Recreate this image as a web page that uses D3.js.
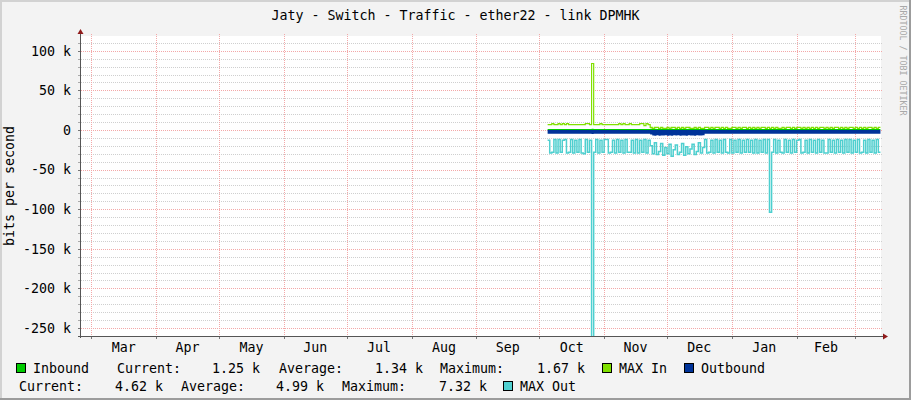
<!DOCTYPE html>
<html><head><meta charset="utf-8">
<script src="https://cdn.jsdelivr.net/npm/d3@7/dist/d3.min.js"></script>
<style>
html,body{margin:0;padding:0;background:#f3f3f3;}
svg{display:block;}
text{font-family:"DejaVu Sans Mono",monospace;}
</style></head>
<body>
<svg id="c" width="911" height="400"></svg>
<script>
// ---------------- DATA ----------------
const title = "Jaty - Switch - Traffic - ether22 - link DPMHK";
const yAxisTitle = "bits per second";
const watermark = "RRDTOOL / TOBI OETIKER";
const monthLabels = ["Mar","Apr","May","Jun","Jul","Aug","Sep","Oct","Nov","Dec","Jan","Feb"];
const majorTicks = [-250,-200,-150,-100,-50,0,50,100];   // k bits/s
const firstDay = "2010-10-05";  // first daily sample (UTC)

// daily values in k bits/s
const inbound = [
1.3,1.4,1.3,1.3,1.4,1.3,1.4,1.3,1.3,1.4, 1.3,1.4,1.3,1.3,1.4,1.3,1.3,1.4,1.3,1.3,
1.4,1.67,1.3,1.4,1.3,1.3,1.4,1.3,1.4,1.3, 1.3,1.4,1.3,1.3,1.4,1.3,1.4,1.3,1.3,1.4,
1.3,1.3,1.4,1.3,1.4,1.3,1.3,1.4,1.3,1.5, 1.4,1.5,1.4,1.4,1.5,1.4,1.5,1.4,1.4,1.5,
1.4,1.5,1.4,1.4,1.5,1.4,1.4,1.5,1.4,1.4, 1.5,1.4,1.4,1.5,1.4,1.3,1.3,1.4,1.3,1.3,
1.4,1.3,1.3,1.4,1.3,1.3,1.4,1.3,1.3,1.4, 1.3,1.3,1.4,1.3,1.3,1.4,1.3,1.3,1.4,1.3,
1.3,1.4,1.3,1.3,1.4,1.3,1.4,1.3,1.3,1.4, 1.3,1.3,1.4,1.3,1.3,1.4,1.3,1.3,1.4,1.3,
1.3,1.4,1.3,1.3,1.4,1.3,1.3,1.4,1.3,1.3, 1.4,1.3,1.3,1.4,1.3,1.3,1.4,1.3,1.3,1.4,
1.3,1.3,1.4,1.3,1.3,1.4,1.3,1.3,1.4,1.3, 1.3,1.4,1.3,1.3,1.4,1.3,1.3,1.3,1.25
];
const maxIn = [
6.9,6.9,8.1,6.9,6.9,8.1,6.9,8.1,6.9,8.1, 6.9,6.9,6.9,6.9,6.9,6.9,6.9,6.9,8.1,8.1,
6.9,84,
6.9,6.9,6.9,8.1,6.9,6.9,6.9,6.9,6.9,6.9, 6.9,6.9,8.1,6.9,8.1,6.9,6.9,8.1,6.9,6.9,
6.9,6.9,8.1,8.1,5.6,8.1,6.9,
3.4,2.1,3.4,3.4,2.1,3.4,2.1,2.1,3.4,2.1, 3.4,3.4,2.1,3.4,2.1,3.4,2.1,3.4,3.4,2.1,
2.1,3.4,2.1,3.4,2.1,2.1,3.4,3.4,2.1,3.4, 2.1,3.4,3.4,2.1,3.4,2.1,3.4,2.1,2.1,3.4,
3.4,2.1,3.4,2.1,3.4,3.4,2.1,3.4,2.1,3.4, 2.1,3.4,2.1,3.4,3.4,2.1,3.4,2.1,3.4,2.1,
3.4,2.1,2.1,3.4,2.1,3.4,3.4,2.1,3.4,2.1, 3.4,3.4,2.1,3.4,2.1,3.4,2.1,3.4,2.1,3.4,
2.1,3.4,3.4,2.1,3.4,2.1,3.4,2.1,3.4,3.4, 2.1,3.4,2.1,3.4,2.1,3.4,3.4,2.1,3.4,2.1,
3.4,2.1,3.4,2.1,3.4,3.4,2.1,3.4,2.1,3.4
];
const outbound = [
4.7,4.6,4.8,4.7,4.6,4.7,4.8,4.6,4.7,4.7, 4.6,4.8,4.7,4.6,4.7,4.7,4.8,4.6,4.7,4.6,
4.7,5.1,4.7,4.6,4.8,4.7,4.6,4.7,4.7,4.8, 4.6,4.7,4.7,4.6,4.8,4.7,4.6,4.7,4.8,4.6,
4.7,4.7,4.6,4.8,4.7,4.6,4.7,4.8,4.7,
5.6,6.9,7.1,6.6,7.2,6.8,7.0,6.5,7.32,6.9, 7.1,6.7,7.0,6.6,7.2,6.9,6.8,7.1,6.6,7.0,
6.8,7.2,6.7,6.9,7.0,6.5,
4.7,4.6,4.8,4.7,4.6,4.7,4.7,4.6,4.8,4.7, 4.6,4.7,4.8,4.6,4.7,4.7,4.6,4.8,4.7,4.6,
4.7,4.7,4.6,4.8,4.7,4.6,4.7,4.8,4.7,4.6, 4.7,4.6,4.8,4.7,4.7,4.6,4.7,4.8,4.6,4.7,
4.7,4.6,4.8,4.7,4.6,4.7,4.7,4.8,4.6,4.7, 4.6,4.7,4.8,4.7,4.6,4.7,4.7,4.6,4.8,4.7,
4.6,4.7,4.7,4.8,4.6,4.7,4.6,4.7,4.8,4.7, 4.6,4.7,4.7,4.6,4.8,4.7,4.6,4.7,4.7,4.6,
4.7,4.8,4.6,4.62
];
const maxOut = [
13,29,28,12,29,12,28,13,12,29, 28,12,29,13,28,12,29,30,12,28, 13,
330,
28,12,29,13,28,12,12,29,28,13, 29,12,28,13,29,12,28,28,13,29, 12,29,13,28,12,29,13,
20,30,16,31,27,17,32,22,30,18, 33,25,19,31,28,17,32,21,30,24, 18,31,27,16,29,22,
12,29,28,13,29,12,28,13,29,12, 28,29,12,29,13,28,12,29,13,28, 12,28,13,29,12,29,13,28,12,29,
12,104,28,
12,29,13,28,29,12,28,13,29,12, 28,13,12,29,28,13,29,12,28,13, 29,12,28,13,29,29,12,28,13,29,
12,28,13,29,12,28,12,29,13,28, 12,29,28,13,29,12,28,13,29,12,28
];

// legend strings
const legendRow1 = [
  {sw:"#00cc00", text:"Inbound", x:33},
  {text:"Current:", x:117},{text:"1.25 k", x:212},
  {text:"Average:", x:279},{text:"1.34 k", x:375},
  {text:"Maximum:", x:440},{text:"1.67 k", x:537},
  {sw:"#80e000", text:"MAX In", x:619},
  {sw:"#003399", text:"Outbound", x:701}
];
const legendRow2 = [
  {text:"Current:", x:19},{text:"4.62 k", x:115},
  {text:"Average:", x:181},{text:"4.99 k", x:276},
  {text:"Maximum:", x:342},{text:"7.32 k", x:439},
  {sw:"#50d0d0", text:"MAX Out", x:520}
];

// ---------------- DRAW ----------------
const svg = d3.select("#c");
const W = 911, H = 400;
const L = 81, R = 881, T = 36, B = 336;
const day = 864e5;
const t0 = d3.utcParse("%Y-%m-%d")(firstDay).getTime();
const dates = inbound.map((_, i) => new Date(t0 + i * day));

const x = d3.scaleUtc()
  .domain([new Date(Date.UTC(2010,1,24,1,53)), new Date(Date.UTC(2011,2,13,6,29))])
  .range([L, R]);
const y = d3.scaleLinear().domain([-260.1, 118.7]).range([B, T]);

// background & frame
svg.append("rect").attr("width", W).attr("height", H).attr("fill", "#f3f3f3");
svg.append("rect").attr("x",0).attr("y",0).attr("width",W).attr("height",2).attr("fill","#d2d2d2");
svg.append("rect").attr("x",0).attr("y",0).attr("width",2).attr("height",H).attr("fill","#d2d2d2");
svg.append("rect").attr("x",0).attr("y",H-2).attr("width",W).attr("height",2).attr("fill","#9c9c9c");
svg.append("rect").attr("x",W-2).attr("y",0).attr("width",2).attr("height",H).attr("fill","#9c9c9c");

// plot background
svg.append("rect").attr("x", L).attr("y", T).attr("width", R - L).attr("height", B - T).attr("fill", "#ffffff");

const gGrid = svg.append("g");
// minor horizontal grid
const minor = d3.range(-260, 120, 10).filter(v => majorTicks.indexOf(v) < 0);
gGrid.selectAll(".hmin").data(minor).join("line")
  .attr("x1", L - 2).attr("x2", R + 2)
  .attr("y1", d => Math.round(y(d)) + 0.5).attr("y2", d => Math.round(y(d)) + 0.5)
  .attr("stroke", "#cfcfcf").attr("stroke-dasharray", "1,1");
// vertical month grid
const months = d3.utcMonth.range(x.domain()[0], x.domain()[1]);
gGrid.selectAll(".vmaj").data(months).join("line")
  .attr("x1", d => Math.round(x(d)) + 0.5).attr("x2", d => Math.round(x(d)) + 0.5)
  .attr("y1", T - 2).attr("y2", B)
  .attr("stroke", "#f3a8a8").attr("stroke-dasharray", "1,1");
// major horizontal grid
gGrid.selectAll(".hmaj").data(majorTicks).join("line")
  .attr("x1", L - 2).attr("x2", R + 2)
  .attr("y1", d => Math.round(y(d)) + 0.5).attr("y2", d => Math.round(y(d)) + 0.5)
  .attr("stroke", "#f3a8a8").attr("stroke-dasharray", "1,1");
// tick marks on axes
const gTk = svg.append("g").attr("shape-rendering", "crispEdges");
gTk.selectAll(".ytk").data(d3.range(-260, 120, 10)).join("line")
  .attr("x1", L - 3).attr("x2", L)
  .attr("y1", d => Math.round(y(d)) + 0.5).attr("y2", d => Math.round(y(d)) + 0.5)
  .attr("stroke", d => majorTicks.indexOf(d) >= 0 ? "#777" : "#aaa");
gTk.selectAll(".xtk").data(months).join("line")
  .attr("x1", d => Math.round(x(d)) + 0.5).attr("x2", d => Math.round(x(d)) + 0.5)
  .attr("y1", B).attr("y2", B + 3)
  .attr("stroke", "#777");

// data
svg.append("clipPath").attr("id", "pc").append("rect")
  .attr("x", L).attr("y", T).attr("width", R - L).attr("height", B - T);
const gData = svg.append("g").attr("clip-path", "url(#pc)");

function pts(arr, sign) {
  const p = arr.map((v, i) => ({d: dates[i], v: sign * v}));
  p.push({d: new Date(dates[dates.length - 1].getTime() + day), v: sign * arr[arr.length - 1]});
  return p;
}
const area = d3.area().curve(d3.curveStepAfter).x(d => x(d.d)).y0(y(0)).y1(d => y(d.v));
const line = d3.line().curve(d3.curveStepAfter).x(d => x(d.d)).y(d => y(d.v));

gData.append("path").datum(pts(inbound, 1)).attr("d", area).attr("fill", "#00cc00");
gData.append("path").datum(pts(maxIn, 1)).attr("d", line).attr("fill", "none")
  .attr("stroke", "#80e000").attr("stroke-width", 1.2);
gData.append("path").datum(pts(outbound, -1)).attr("d", area).attr("fill", "#003399");
gData.append("path").datum(pts(maxOut, -1)).attr("d", line).attr("fill", "none")
  .attr("stroke", "#4ecfcf").attr("stroke-width", 1.5);

// axes
const gAx = svg.append("g").attr("shape-rendering", "crispEdges");
gAx.append("line").attr("x1", L - 0.5).attr("x2", L - 0.5).attr("y1", T - 4).attr("y2", B + 2).attr("stroke", "#555");
gAx.append("line").attr("x1", L - 3).attr("x2", R + 3).attr("y1", B + 0.5).attr("y2", B + 0.5).attr("stroke", "#555");
svg.append("path").attr("d", `M${L-0.5},${T-7} L${L-3.5},${T-2} L${L+2.5},${T-2} Z`).attr("fill", "#8f1a1a");
svg.append("path").attr("d", `M${R+7},${B+0.5} L${R+2},${B-2.5} L${R+2},${B+3.5} Z`).attr("fill", "#8f1a1a");

// y tick labels
svg.selectAll(".ylab").data(majorTicks).join("text")
  .attr("x", L - 10).attr("y", d => y(d) + 4.8)
  .attr("text-anchor", "end").attr("font-size", "13.3px").attr("fill", "#000")
  .text(d => d === 0 ? "0" : d + " k");

// month labels
svg.selectAll(".xlab").data(monthLabels).join("text")
  .attr("x", (d, i) => (x(months[i]) + x(months[i + 1])) / 2)
  .attr("y", 351.5).attr("text-anchor", "middle").attr("font-size", "13.3px").attr("fill", "#000")
  .text(d => d);

// title
svg.append("text").attr("x", W / 2).attr("y", 19.5).attr("text-anchor", "middle")
  .attr("font-size", "13.3px").attr("fill", "#000").text(title);
// y title
svg.append("text").attr("transform", "translate(14,186) rotate(-90)").attr("text-anchor", "middle")
  .attr("font-size", "13.3px").attr("fill", "#000").text(yAxisTitle);
// watermark
svg.append("text").attr("transform", "translate(899.5,5.5) rotate(90)").attr("text-anchor", "start")
  .attr("font-size", "8.3px").attr("fill", "#a8a8a8").text(watermark);

// legend
function drawRow(row, baseY) {
  row.forEach(it => {
    if (it.sw) {
      svg.append("rect").attr("x", it.x - 16.5).attr("y", baseY - 9.5).attr("width", 9).attr("height", 9)
        .attr("fill", it.sw).attr("stroke", "#000").attr("stroke-width", 1).attr("shape-rendering", "crispEdges");
    }
    svg.append("text").attr("x", it.x).attr("y", baseY).attr("font-size", "13.3px").attr("fill", "#000").text(it.text);
  });
}
drawRow(legendRow1, 372.5);
drawRow(legendRow2, 390.5);
</script>
</body></html>
